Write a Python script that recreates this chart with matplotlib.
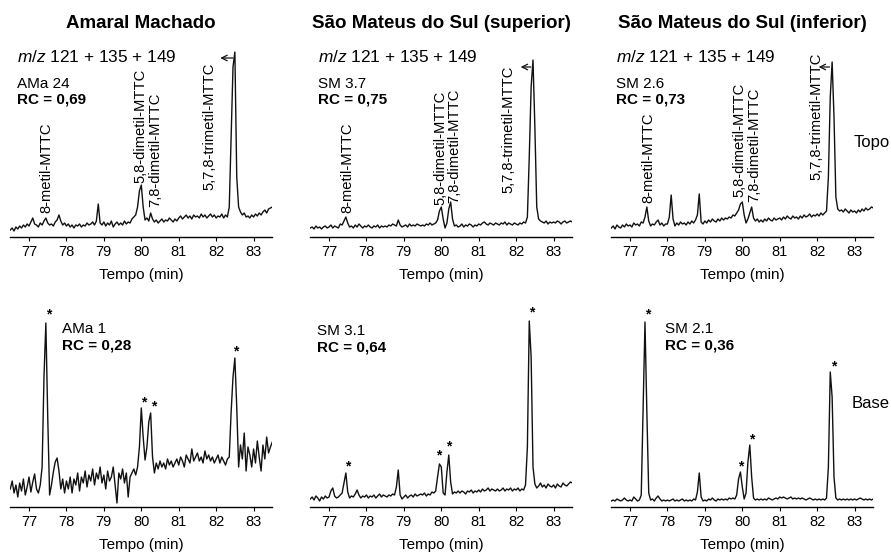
import numpy as np
import matplotlib
matplotlib.use("Agg")
import matplotlib.pyplot as plt

plt.rcParams["font.family"] = ["Liberation Sans", "DejaVu Sans"]
plt.rcParams["mathtext.fontset"] = "custom"
plt.rcParams["mathtext.it"] = "Liberation Sans:italic"
plt.rcParams["mathtext.rm"] = "Liberation Sans"

# sampling of the traces: one value every 0.05 min from 76.50 to 83.50
TIME_START = 76.5
TIME_STEP = 0.05
TICKS = [77, 78, 79, 80, 81, 82, 83]

TITLES = ["Amaral Machado", "São Mateus do Sul (superior)", "São Mateus do Sul (inferior)"]
TOP_SAMPLES = ["AMa 24", "SM 3.7", "SM 2.6"]
TOP_RC = ["0,69", "0,75", "0,73"]
BASE_SAMPLES = ["AMa 1", "SM 3.1", "SM 2.1"]
BASE_RC = ["0,28", "0,64", "0,36"]
PEAK_NAMES = ["8-metil-MTTC", "5,8-dimetil-MTTC", "7,8-dimetil-MTTC", "5,7,8-trimetil-MTTC"]
ROW_NAMES = ["Topo", "Base"]

# relative intensity (m/z 121 + 135 + 149)
AMA24 = [7, 9, 6, 10, 8, 11, 9, 12, 10, 13,
         11, 15, 19, 13, 12, 10, 14, 12, 16, 19,
         14, 12, 13, 11, 15, 17, 22, 16, 12, 14,
         11, 13, 10, 12, 9, 12, 11, 13, 10, 12,
         11, 14, 12, 13, 15, 12, 16, 33, 14, 12,
         15, 11, 14, 12, 16, 10, 13, 15, 12, 14,
         12, 16, 13, 15, 14, 18, 20, 22, 30, 46,
         52, 30, 17, 19, 16, 24, 18, 15, 17, 14,
         16, 18, 15, 17, 16, 19, 17, 15, 18, 16,
         19, 21, 18, 20, 22, 19, 21, 18, 22, 20,
         21, 19, 23, 20, 22, 19, 21, 23, 20, 22,
         19, 21, 20, 23, 19, 22, 20, 30, 100, 170,
         185, 60, 30, 25, 22, 24, 20, 21, 19, 22,
         20, 23, 21, 24, 22, 25, 27, 24, 28, 29,
         30]
SM37 = [9, 10, 8, 11, 9, 10, 8, 10, 11, 9,
        10, 12, 9, 11, 10, 9, 13, 12, 16, 20,
        14, 10, 11, 9, 12, 10, 13, 11, 9, 11,
        10, 12, 10, 9, 11, 10, 12, 9, 11, 10,
        11, 10, 12, 11, 13, 12, 11, 17, 12, 10,
        11, 12, 10, 13, 11, 12, 11, 13, 12, 11,
        12, 11, 13, 12, 14, 12, 13, 14, 17, 26,
        30, 18, 9, 14, 28, 35, 18, 11, 12, 10,
        11, 13, 10, 12, 11, 13, 12, 10, 12, 11,
        13, 12, 14, 15, 13, 12, 14, 13, 12, 14,
        13, 12, 14, 13, 15, 12, 14, 13, 12, 14,
        13, 12, 14, 13, 15, 14, 20, 80, 150, 177,
        110, 30, 18, 16, 15, 14, 16, 13, 15, 14,
        15, 14, 16, 15, 13, 15, 16, 14, 15, 16,
        15]
SM26 = [9, 11, 8, 12, 10, 9, 12, 10, 13, 11,
        12, 10, 14, 12, 13, 11, 15, 14, 20, 30,
        16, 11, 13, 12, 15, 17, 12, 14, 11, 13,
        13, 20, 42, 18, 11, 14, 12, 15, 13, 14,
        12, 15, 13, 16, 14, 17, 22, 43, 15, 13,
        16, 14, 17, 15, 18, 16, 15, 18, 16, 19,
        17, 19, 18, 20, 19, 22, 21, 24, 27, 33,
        35, 22, 14, 18, 24, 30, 19, 16, 18, 15,
        17, 15, 18, 16, 19, 17, 16, 19, 17, 18,
        19, 17, 20, 18, 21, 19, 18, 21, 19, 20,
        18, 21, 19, 22, 20, 21, 23, 20, 22, 21,
        23, 21, 24, 22, 24, 26, 60, 140, 175, 120,
        40, 28, 26, 27, 25, 28, 26, 24, 27, 25,
        26, 24, 27, 25, 28, 26, 29, 27, 28, 30,
        29]
AMA1 = [18, 26, 14, 22, 10, 24, 16, 28, 12, 20,
        30, 15, 25, 33, 18, 14, 22, 40, 130, 184,
        90, 12, 22, 35, 45, 49, 36, 18, 28, 14,
        26, 18, 30, 14, 28, 22, 34, 16, 30, 24,
        36, 20, 32, 26, 38, 22, 34, 28, 40, 24,
        32, 18, 36, 26, 30, 40, 22, 4, 34, 28,
        38, 24, 34, 10, 30, 34, 38, 32, 40, 60,
        99, 70, 47, 60, 85, 94, 50, 34, 44, 38,
        46, 40, 44, 38, 48, 42, 46, 40, 44, 48,
        42, 50, 46, 40, 52, 48, 44, 58, 46, 50,
        54, 46, 50, 44, 56, 48, 52, 46, 50, 44,
        48, 52, 44, 50, 46, 42, 48, 50, 95, 130,
        149, 100, 40, 62, 48, 74, 36, 60, 52, 40,
        58, 44, 66, 50, 36, 62, 48, 70, 54, 60,
        65]
SM31 = [8, 10, 7, 11, 9, 6, 10, 8, 11, 9,
        10, 16, 19, 11, 9, 10, 12, 14, 24, 34,
        15, 9, 11, 10, 13, 17, 12, 9, 11, 10,
        12, 9, 11, 10, 12, 9, 11, 13, 10, 12,
        11, 10, 12, 11, 13, 12, 20, 37, 12, 8,
        10, 12, 9, 11, 12, 10, 13, 11, 12, 13,
        12, 14, 11, 13, 12, 15, 14, 16, 30, 43,
        40, 14, 12, 35, 52, 25, 13, 15, 14, 16,
        14, 16, 15, 13, 16, 15, 17, 14, 16, 15,
        17, 15, 18, 16, 17, 19, 16, 18, 17, 16,
        18, 16, 17, 19, 16, 18, 17, 19, 16, 18,
        17, 19, 16, 18, 17, 22, 60, 186, 150, 40,
        23, 19, 21, 24, 20, 22, 19, 23, 21, 20,
        22, 19, 23, 21, 20, 24, 22, 21, 23, 25,
        24]
SM21 = [6, 7, 6, 8, 7, 6, 7, 9, 7, 6,
        7, 6, 10, 8, 6, 7, 12, 100, 185, 95,
        14, 7, 8, 6, 9, 11, 8, 6, 7, 6,
        7, 6, 7, 8, 6, 7, 6, 7, 8, 6,
        7, 6, 7, 6, 8, 7, 15, 34, 10, 6,
        7, 6, 8, 7, 9, 7, 6, 8, 7, 8,
        7, 8, 7, 9, 8, 9, 8, 12, 28, 35,
        20, 8, 14, 45, 62, 30, 9, 7, 8, 7,
        8, 7, 8, 7, 9, 8, 7, 8, 9, 8,
        10, 9, 10, 9, 8, 9, 10, 8, 9, 8,
        9, 8, 9, 8, 7, 8, 9, 8, 7, 8,
        7, 8, 7, 8, 7, 9, 40, 135, 110, 30,
        9, 7, 8, 7, 8, 7, 8, 7, 8, 7,
        8, 7, 8, 9, 8, 7, 8, 7, 8, 7,
        8]

TOP_TRACES = [AMA24, SM37, SM26]
BASE_TRACES = [AMA1, SM31, SM21]

# ---- layout (pixels of the 891x556 figure) ----
W, H = 891, 556
AX_W, AX_H = 262, 207
LEFTS = [10.3, 310.3, 611.3]
AXIS_ROWS = [237, 507]

# label anchors in data units (time, height)
TOP_TEXT_X = [76.67, 76.71, 76.63]
PEAK_LABEL_POS = [
    [(77.47, 24), (79.97, 54), (80.38, 30), (81.82, 47)],
    [(77.49, 24), (79.98, 32), (80.34, 34), (81.80, 44)],
    [(77.49, 34), (79.93, 40), (80.33, 35), (81.98, 57)],
]
ARROWS = [(82.11, 82.45, 179), (82.12, 82.39, 170), (82.04, 82.33, 170)]
BASE_TEXT_POS = [(77.87, 178, 161), (76.67, 176, 160), (77.94, 178, 161)]
STARS = [
    [(77.52, 196), (80.07, 108), (80.32, 104), (82.52, 159)],
    [(77.49, 44), (79.94, 55), (80.20, 64), (82.42, 198)],
    [(77.47, 196), (79.97, 44), (80.25, 71), (82.44, 144)],
]

fig = plt.figure(figsize=(W / 100, H / 100), dpi=100)


def make_axes(col, row):
    ax = fig.add_axes([LEFTS[col] / W, 1 - AXIS_ROWS[row] / H, AX_W / W, AX_H / H])
    ax.patch.set_alpha(0)
    ax.set_xlim(76.5, 83.5)
    ax.set_ylim(0, AX_H)
    for side in ["left", "right", "top"]:
        ax.spines[side].set_visible(False)
    ax.spines["bottom"].set_linewidth(1.0)
    ax.set_yticks([])
    ax.set_xticks(TICKS)
    ax.tick_params(axis="x", direction="out", length=3, width=0.8, pad=3, labelsize=10.5)
    ax.set_xlabel("Tempo (min)", fontsize=11, labelpad=6)
    return ax


def draw_trace(ax, values):
    times = TIME_START + TIME_STEP * np.arange(len(values))
    ax.plot(times, values, color="#111111", lw=1.0)


for col in range(3):
    # top row
    ax = make_axes(col, 0)
    draw_trace(ax, TOP_TRACES[col])
    ax.text(0.5, 1 + 7 / AX_H, TITLES[col], transform=ax.transAxes, ha="center",
            va="center", fontsize=13.5, fontweight="bold")
    x0 = TOP_TEXT_X[col]
    ax.text(x0, 180, r"$\mathit{m/z}$ 121 + 135 + 149", fontsize=12.4, va="center")
    ax.text(x0, 153, TOP_SAMPLES[col], fontsize=11, va="center")
    ax.text(x0, 137, "RC = " + TOP_RC[col], fontsize=11, fontweight="bold", va="center")
    for name, (t, h) in zip(PEAK_NAMES, PEAK_LABEL_POS[col]):
        ax.text(t, h, name, rotation=90, ha="center", va="bottom", fontsize=10.6)
    head, tail, h = ARROWS[col]
    ax.annotate("", xy=(head, h), xytext=(tail, h),
                arrowprops=dict(arrowstyle="->", lw=0.9, color="#111111",
                                shrinkA=0, shrinkB=0))

    # bottom row
    ax = make_axes(col, 1)
    draw_trace(ax, BASE_TRACES[col])
    t0, h1, h2 = BASE_TEXT_POS[col]
    ax.text(t0, h1, BASE_SAMPLES[col], fontsize=11, va="center")
    ax.text(t0, h2, "RC = " + BASE_RC[col], fontsize=11, fontweight="bold", va="center")
    for t, h in STARS[col]:
        ax.text(t, h - 7, "*", ha="center", va="baseline", fontsize=10, fontweight="bold")

fig.text(854 / W, 1 - 143 / H, ROW_NAMES[0], fontsize=12, va="center")
fig.text(852 / W, 1 - 403 / H, ROW_NAMES[1], fontsize=12, va="center")

fig.savefig("out.png", dpi=100)
